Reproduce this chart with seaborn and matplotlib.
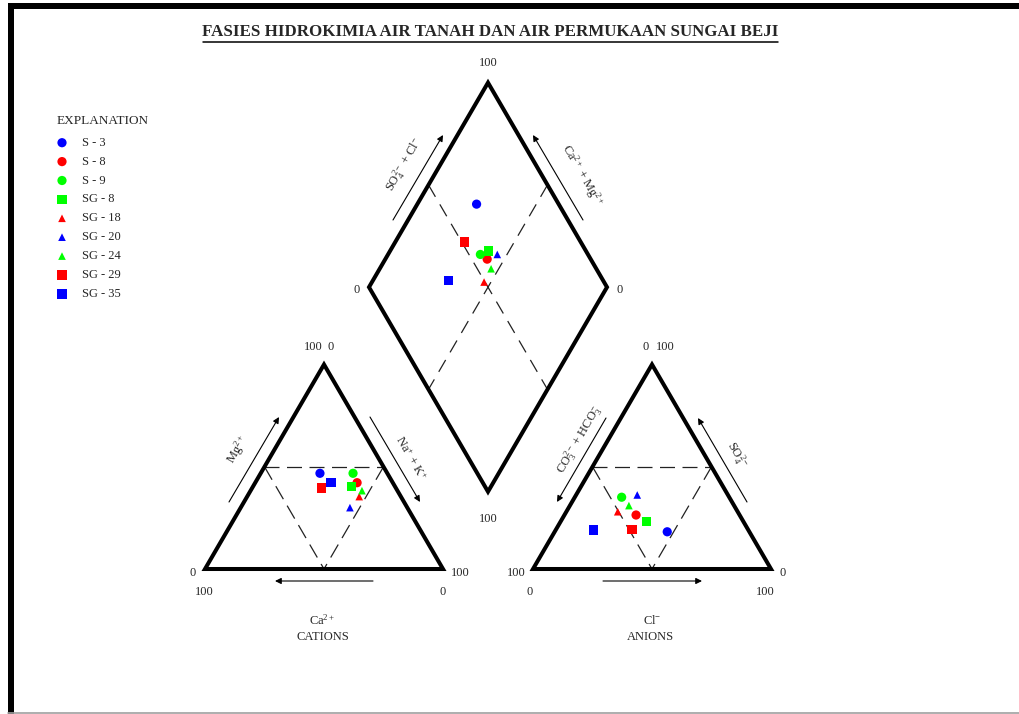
import numpy as np
import pandas as pd
import matplotlib
matplotlib.use("Agg")
import matplotlib.pyplot as plt
from matplotlib.patches import Polygon, Rectangle
import seaborn as sns

# ---------------------------------------------------------------- data (%)
samples = ["S - 3", "S - 8", "S - 9", "SG - 8", "SG - 18",
           "SG - 20", "SG - 24", "SG - 29", "SG - 35"]

# cations (meq %)
ca   = [28.3, 15.0, 14.4, 18.4, 17.5, 24.1, 14.9, 31.2, 25.9]
mg   = [46.8, 42.2, 46.8, 40.2, 35.4, 30.0, 38.3, 39.6, 42.4]
na_k = [24.9, 42.8, 38.8, 41.4, 47.1, 45.9, 46.8, 29.2, 31.7]

# anions (meq %)
hco3 = [34.5, 43.5, 45.2, 40.9, 50.4, 38.1, 44.2, 48.7, 65.1]
so4  = [18.2, 26.4, 35.1, 23.1, 28.0, 36.2, 31.0, 19.4, 19.1]
cl   = [47.3, 30.1, 19.7, 36.0, 21.6, 25.7, 24.8, 31.9, 15.8]

colors  = ["#0000ff", "#ff0000", "#00ff00", "#00ff00", "#ff0000",
           "#0000ff", "#00ff00", "#ff0000", "#0000ff"]
markers = ["o", "o", "o", "s", "^", "^", "^", "s", "s"]

# ---------------------------------------------------------------- style
sns.set_theme(style="white")
plt.rcParams["font.family"] = ["Liberation Serif", "DejaVu Serif"]
plt.rcParams["mathtext.fontset"] = "custom"
plt.rcParams["mathtext.rm"] = "Liberation Serif"
plt.rcParams["mathtext.it"] = "Liberation Serif:italic"
plt.rcParams["mathtext.bf"] = "Liberation Serif:bold"

W, H = 1020, 714
fig = plt.figure(figsize=(W / 100, H / 100), dpi=100)
fig.patch.set_facecolor("white")
ax = fig.add_axes([0, 0, 1, 1])
ax.set_xlim(0, W)
ax.set_ylim(H, 0)
ax.axis("off")

# ---------------------------------------------------------------- page frame
ax.add_patch(Rectangle((8, 3), W - 8, 6, color="black", lw=0))
ax.add_patch(Rectangle((8, 3), 6, H - 3, color="black", lw=0))
ax.plot([8, W], [712.5, 712.5], color="#a0a0a0", lw=1.2)

# ---------------------------------------------------------------- geometry
X0, Y0 = 205.0, 569.0      # left vertex of the cation triangle
SIDE, TH = 238.0, 204.5    # triangle side and height
GAP = 90.0                 # space between the two triangles
XA = X0 + SIDE + GAP       # left vertex of the anion triangle


def tri_point(left_x, right_frac, top_frac):
    x = left_x + SIDE * (right_frac + top_frac / 2.0)
    y = Y0 - TH * top_frac
    return x, y


bottom = np.array([X0 + SIDE + GAP / 2.0, Y0 - GAP * TH / SIDE])
v_left = np.array([-SIDE / 2.0, -TH])
v_right = np.array([SIDE / 2.0, -TH])


def diamond_point(camg, socl):
    p = bottom + camg * v_left + socl * v_right
    return p[0], p[1]


OUT_LW = 2.9


def outline(pts):
    ax.add_patch(Polygon(pts, closed=True, fill=False, ec="black",
                         lw=OUT_LW, joinstyle="miter", zorder=2))


def dashed(p, q, dashes=(12, 6)):
    ax.plot([p[0], q[0]], [p[1], q[1]], color="#222222", lw=0.9,
            dashes=dashes, zorder=1)


def arrow(p_from, p_to):
    ax.annotate("", xy=p_to, xytext=p_from,
                arrowprops=dict(arrowstyle="-|>", lw=0.8, color="black",
                                mutation_scale=9, shrinkA=0, shrinkB=0))


# triangles
for lx in (X0, XA):
    L = (lx, Y0)
    R = (lx + SIDE, Y0)
    T = (lx + SIDE / 2, Y0 - TH)
    outline([L, R, T])
    ml = (lx + SIDE / 4, Y0 - TH / 2)
    mr = (lx + 3 * SIDE / 4, Y0 - TH / 2)
    mb = (lx + SIDE / 2, Y0)
    dashed(ml, mr)
    dashed(ml, mb)
    dashed(mr, mb)

# diamond
d_b = tuple(bottom)
d_l = tuple(bottom + v_left)
d_r = tuple(bottom + v_right)
d_t = tuple(bottom + v_left + v_right)
outline([d_b, d_l, d_t, d_r])
mid = lambda a, b: ((a[0] + b[0]) / 2, (a[1] + b[1]) / 2)
dashed(mid(d_l, d_t), mid(d_b, d_r), dashes=(11, 7))
dashed(mid(d_t, d_r), mid(d_l, d_b), dashes=(11, 7))

# ---------------------------------------------------------------- points
rows = []
for i, name in enumerate(samples):
    size = "small" if markers[i] == "^" else "big"
    x, y = tri_point(X0, na_k[i] / 100, mg[i] / 100)
    rows.append((name, x, y, size))
    x, y = tri_point(XA, cl[i] / 100, so4[i] / 100)
    rows.append((name, x, y, size))
    x, y = diamond_point((ca[i] + mg[i]) / 100, (so4[i] + cl[i]) / 100)
    rows.append((name, x, y, size))
pts = pd.DataFrame(rows, columns=["sample", "x", "y", "msize"])

palette = dict(zip(samples, colors))
marker_map = dict(zip(samples, markers))
size_map = {"big": 44, "small": 30}

sns.scatterplot(data=pts, x="x", y="y", hue="sample", style="sample",
                size="msize", sizes=size_map, palette=palette,
                markers=marker_map, hue_order=samples, style_order=samples,
                linewidth=0, legend=False, ax=ax, zorder=5)

# ---------------------------------------------------------------- legend
leg_y = 142.7 + 18.9 * np.arange(len(samples))
leg = pd.DataFrame({"sample": samples, "x": 62.0, "y": leg_y,
                    "msize": ["small" if m == "^" else "big" for m in markers]})
sns.scatterplot(data=leg, x="x", y="y", hue="sample", style="sample",
                size="msize", sizes=size_map, palette=palette,
                markers=marker_map, hue_order=samples, style_order=samples,
                linewidth=0, legend=False, ax=ax, zorder=5)
ax.text(57, 121, "EXPLANATION", fontsize=9.5, ha="left", va="center")
for name, y in zip(samples, leg_y):
    ax.text(82, y, name, fontsize=9, ha="left", va="center")

# ---------------------------------------------------------------- title
ax.text(490.5, 32.5, "FASIES HIDROKIMIA AIR TANAH DAN AIR PERMUKAAN SUNGAI BEJI",
        fontsize=12.2, fontweight="bold", ha="center", va="center")
ax.plot([203, 778], [41.5, 41.5], color="black", lw=1.1)

# ---------------------------------------------------------------- corner values
FS = 9
def lab(x, y, s, **kw):
    ax.text(x, y, s, fontsize=FS, ha="center", va="center", **kw)

# cation triangle
lab(313, 347, "100"); lab(331, 347, "0")
lab(193, 573, "0"); lab(204, 592, "100")
lab(460, 573, "100"); lab(443, 592, "0")
# anion triangle
lab(646, 347, "0"); lab(665, 347, "100")
lab(516, 573, "100"); lab(530, 592, "0")
lab(783, 573, "0"); lab(765, 592, "100")
# diamond
lab(488, 63, "100"); lab(488, 519, "100")
lab(357, 290, "0"); lab(620, 290, "0")

# ---------------------------------------------------------------- axis titles
ax.text(322, 620, r"Ca$^{2+}$", fontsize=FS, ha="center", va="center")
ax.text(323, 637, "CATIONS", fontsize=FS, ha="center", va="center")
ax.text(652, 620, r"Cl$^{-}$", fontsize=FS, ha="center", va="center")
ax.text(650, 637, "ANIONS", fontsize=FS, ha="center", va="center")

ax.text(238, 450, r"Mg$^{2+}$", fontsize=FS, rotation=60,
        ha="center", va="center", rotation_mode="anchor")
ax.text(410, 458, r"Na$^{+}$ + K$^{+}$", fontsize=FS, rotation=-60,
        ha="center", va="center", rotation_mode="anchor")
ax.text(579, 440, r"CO$_3^{2-}$ + HCO$_3^{-}$", fontsize=FS, rotation=60,
        ha="center", va="center", rotation_mode="anchor")
ax.text(737, 455, r"SO$_4^{2-}$", fontsize=FS, rotation=-60,
        ha="center", va="center", rotation_mode="anchor")
ax.text(404, 165, r"SO$_4^{2-}$ + Cl$^{-}$", fontsize=FS, rotation=60,
        ha="center", va="center", rotation_mode="anchor")
ax.text(582, 176, r"Ca$^{2+}$ + Mg$^{2+}$", fontsize=FS, rotation=-60,
        ha="center", va="center", rotation_mode="anchor")

# direction arrows
arrow((229, 502), (279, 417))
arrow((370, 417), (420, 502))
arrow((373, 581), (275, 581))
arrow((606, 418), (557, 502))
arrow((747, 502), (698, 418))
arrow((603, 581), (702, 581))
arrow((393, 220), (443, 135))
arrow((583, 220), (533, 135))

fig.savefig("out.png", dpi=100, facecolor="white")
